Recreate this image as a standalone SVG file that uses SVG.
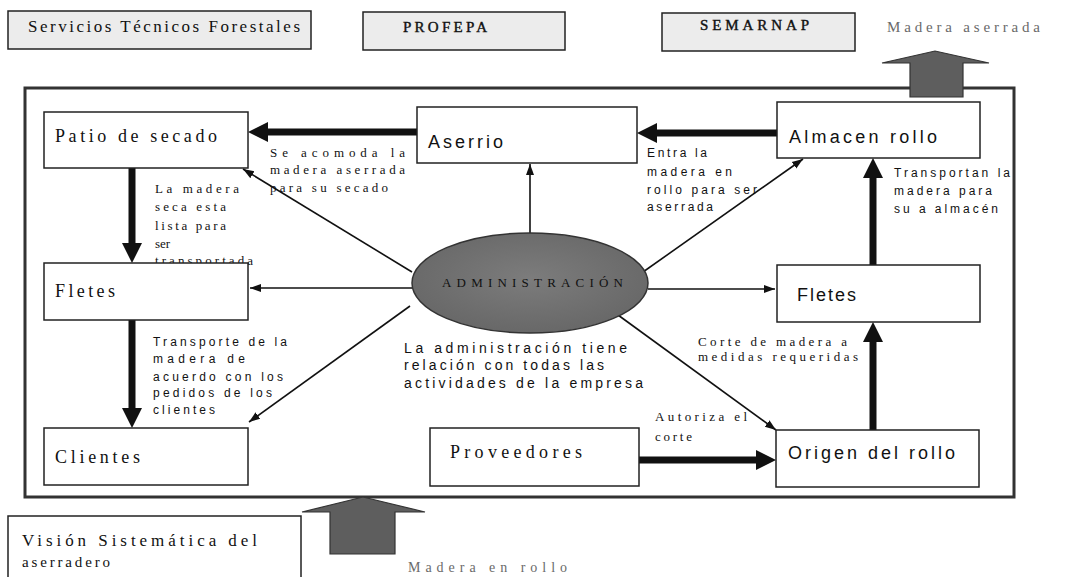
<svg xmlns="http://www.w3.org/2000/svg" width="1073" height="577" viewBox="0 0 1073 577">
<style>
.box{fill:#fff;stroke:#222;stroke-width:1.5}
.gbox{fill:#ececec;stroke:#222;stroke-width:1.5}
.serif{font-family:"Liberation Serif","DejaVu Serif",serif;fill:#111}
.sans{font-family:"Liberation Sans","DejaVu Sans",sans-serif;fill:#111}
.node{font-size:18px}
.lbl{font-size:12px}
.slbl{font-size:13px}
.grey{fill:#6a6a6a}
.thick{stroke:#111;stroke-width:7;fill:none}
.thin{stroke:#111;stroke-width:1.6;fill:none;marker-end:url(#ah)}
.big{fill:#5e5e5e;stroke:#333;stroke-width:1.2}
</style>
<defs>
<marker id="ah" markerUnits="userSpaceOnUse" markerWidth="12" markerHeight="10" viewBox="0 0 12 10" refX="11" refY="5" orient="auto">
<path d="M0,1 L11,5 L0,9 z" fill="#111"/>
</marker>
<marker id="th" markerUnits="userSpaceOnUse" markerWidth="20" markerHeight="20" viewBox="0 0 20 20" refX="0" refY="10" orient="auto">
<path d="M0,0 L20,10 L0,20 z" fill="#111"/>
</marker>
<radialGradient id="eg" cx="0.5" cy="0.45" r="0.6">
<stop offset="0" stop-color="#7c7c7c"/>
<stop offset="1" stop-color="#666"/>
</radialGradient>
</defs>
<rect width="1073" height="577" fill="#fff"/>

<g id="top-labels">
<rect class="gbox" x="8" y="11" width="303" height="38"/>
<text class="serif" x="28" y="32" font-size="17" textLength="272" lengthAdjust="spacing">Servicios Técnicos Forestales</text>
<rect class="gbox" x="363" y="12" width="202" height="38"/>
<text class="serif" x="403" y="32" font-size="15" stroke="#111" stroke-width="0.4" textLength="84" lengthAdjust="spacing">PROFEPA</text>
<rect class="gbox" x="662" y="13" width="193" height="38"/>
<text class="serif" x="700" y="30" font-size="15" stroke="#111" stroke-width="0.4" textLength="109" lengthAdjust="spacing">SEMARNAP</text>
<text class="serif grey" x="887" y="32" font-size="15" textLength="153" lengthAdjust="spacing">Madera aserrada</text>
</g>

<g id="frame">
<rect x="25" y="88" width="989" height="409" fill="none" stroke="#333" stroke-width="3"/>
</g>

<g id="out-arrow">
<path class="big" d="M910,97 L910,63 L882,63 L935,51 L989,63 L963,63 L963,97 z"/>
</g>
<g id="in-arrow">
<path class="big" d="M330,554 L330,512 L302,512 L363,497 L425,512 L395,512 L395,554 z"/>
<text class="serif grey" x="408" y="572" font-size="14" textLength="159" lengthAdjust="spacing">Madera en rollo</text>
</g>

<g id="vision">
<rect class="box" x="8" y="516" width="293" height="70"/>
<text class="serif" x="22" y="546" font-size="17" textLength="235" lengthAdjust="spacing">Visión Sistemática del</text>
<text class="serif" x="22" y="567" font-size="15" textLength="88" lengthAdjust="spacing">aserradero</text>
</g>

<g id="connectors">
<line class="thick" x1="417" y1="132" x2="268" y2="132" marker-end="url(#th)"/>
<line class="thick" x1="777" y1="133" x2="657" y2="133" marker-end="url(#th)"/>
<line class="thick" x1="132" y1="168" x2="132" y2="243" marker-end="url(#th)"/>
<line class="thick" x1="132" y1="320" x2="132" y2="408" marker-end="url(#th)"/>
<line class="thick" x1="873" y1="430" x2="873" y2="342" marker-end="url(#th)"/>
<line class="thick" x1="873" y1="265" x2="873" y2="178" marker-end="url(#th)"/>
<line class="thick" x1="639" y1="460" x2="756" y2="460" marker-end="url(#th)"/>
<line class="thin" x1="412" y1="272" x2="243" y2="169"/>
<line class="thin" x1="530" y1="233" x2="530" y2="164"/>
<line class="thin" x1="643" y1="272" x2="803" y2="159"/>
<line class="thin" x1="412" y1="288" x2="250" y2="288"/>
<line class="thin" x1="648" y1="289" x2="775" y2="289"/>
<line class="thin" x1="410" y1="306" x2="249" y2="422"/>
<line class="thin" x1="618" y1="315" x2="776" y2="430"/>
</g>

<g id="edge-labels">
<text class="serif slbl" x="270" y="157" textLength="135" lengthAdjust="spacing">Se acomoda la</text>
<text class="serif slbl" x="270" y="174" textLength="135" lengthAdjust="spacing">madera aserrada</text>
<text class="serif slbl" x="270" y="192" textLength="118" lengthAdjust="spacing">para su secado</text>
<text class="serif slbl" x="155" y="193" textLength="84" lengthAdjust="spacing">La madera</text>
<text class="serif slbl" x="155" y="211" textLength="71" lengthAdjust="spacing">seca esta</text>
<text class="serif slbl" x="155" y="230" textLength="71" lengthAdjust="spacing">lista para</text>
<text class="serif slbl" x="155" y="248" textLength="15" lengthAdjust="spacing">ser</text>
<text class="serif slbl" x="155" y="265" textLength="98" lengthAdjust="spacing">transportada</text>
<text class="sans lbl" x="647" y="157" textLength="60" lengthAdjust="spacing">Entra la</text>
<text class="sans lbl" x="647" y="176" textLength="85" lengthAdjust="spacing">madera en</text>
<text class="sans lbl" x="647" y="194" textLength="110" lengthAdjust="spacing">rollo para ser</text>
<text class="sans lbl" x="647" y="211" textLength="66" lengthAdjust="spacing">aserrada</text>
<text class="sans lbl" x="894" y="177" textLength="116" lengthAdjust="spacing">Transportan la</text>
<text class="sans lbl" x="894" y="195" textLength="98" lengthAdjust="spacing">madera para</text>
<text class="sans lbl" x="894" y="213" textLength="104" lengthAdjust="spacing">su a almacén</text>
<text class="sans lbl" x="153" y="346" textLength="134" lengthAdjust="spacing">Transporte de la</text>
<text class="sans lbl" x="153" y="363" textLength="92" lengthAdjust="spacing">madera de</text>
<text class="sans lbl" x="153" y="381" textLength="130" lengthAdjust="spacing">acuerdo con los</text>
<text class="sans lbl" x="153" y="397" textLength="119" lengthAdjust="spacing">pedidos de los</text>
<text class="sans lbl" x="153" y="414" textLength="62" lengthAdjust="spacing">clientes</text>
<text class="serif slbl" x="698" y="346" textLength="149" lengthAdjust="spacing">Corte de madera a</text>
<text class="serif slbl" x="698" y="361" textLength="160" lengthAdjust="spacing">medidas requeridas</text>
<text class="serif slbl" x="655" y="421" textLength="92" lengthAdjust="spacing">Autoriza el</text>
<text class="serif slbl" x="655" y="441" textLength="37" lengthAdjust="spacing">corte</text>
<text class="sans" x="404" y="353" font-size="14" textLength="223" lengthAdjust="spacing">La administración tiene</text>
<text class="sans" x="404" y="370" font-size="14" textLength="200" lengthAdjust="spacing">relación con todas las</text>
<text class="sans" x="404" y="388" font-size="14" textLength="239" lengthAdjust="spacing">actividades de la empresa</text>
</g>

<g id="patio">
<rect class="box" x="44" y="112" width="204" height="56"/>
<text class="serif node" x="55" y="142" textLength="162" lengthAdjust="spacing">Patio de secado</text>
</g>
<g id="aserrio">
<rect class="box" x="417" y="107" width="220" height="56"/>
<text class="sans node" x="428" y="148" textLength="75" lengthAdjust="spacing">Aserrio</text>
</g>
<g id="almacen">
<rect class="box" x="777" y="102" width="203" height="56"/>
<text class="sans node" x="789" y="143" textLength="148" lengthAdjust="spacing">Almacen rollo</text>
</g>
<g id="fletes-izq">
<rect class="box" x="44" y="263" width="204" height="57"/>
<text class="serif node" x="55" y="297" textLength="60" lengthAdjust="spacing">Fletes</text>
</g>
<g id="fletes-der">
<rect class="box" x="777" y="265" width="203" height="57"/>
<text class="sans node" x="797" y="301" textLength="59" lengthAdjust="spacing">Fletes</text>
</g>
<g id="clientes">
<rect class="box" x="44" y="428" width="204" height="57"/>
<text class="serif node" x="55" y="463" textLength="85" lengthAdjust="spacing">Clientes</text>
</g>
<g id="proveedores">
<rect class="box" x="430" y="428" width="209" height="58"/>
<text class="serif node" x="450" y="458" textLength="132" lengthAdjust="spacing">Proveedores</text>
</g>
<g id="origen">
<rect class="box" x="776" y="430" width="203" height="57"/>
<text class="sans node" x="788" y="459" textLength="167" lengthAdjust="spacing">Origen del rollo</text>
</g>
<g id="administracion">
<ellipse cx="530" cy="283" rx="118" ry="50" fill="url(#eg)" stroke="#333" stroke-width="1.5"/>
<text class="serif" x="442" y="287" font-size="13" fill="#111" textLength="181" lengthAdjust="spacing">ADMINISTRACIÓN</text>
</g>
</svg>
